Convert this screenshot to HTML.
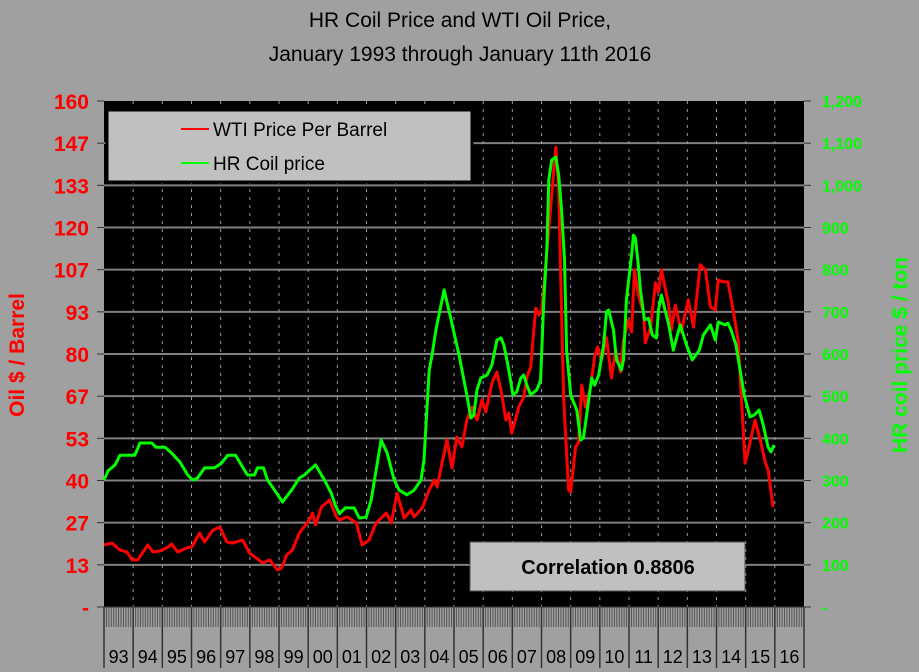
<!DOCTYPE html>
<html><head><meta charset="utf-8"><style>
body{margin:0;background:#a0a0a0;}
svg{display:block;font-family:"Liberation Sans",Arial,sans-serif;}
</style></head><body>
<svg id="chart" width="919" height="672" viewBox="0 0 919 672">
<rect x="0" y="0" width="919" height="672" fill="#a0a0a0"/>
<text x="460" y="27" text-anchor="middle" font-size="21" fill="#000">HR Coil Price and WTI Oil Price,</text>
<text x="460" y="61" text-anchor="middle" font-size="21" fill="#000">January 1993 through January 11th 2016</text>
<rect x="104" y="101" width="700" height="506" fill="#000"/>
<g id="grid"></g>
<g id="xaxis"></g>
<g id="yaxes"></g>
<g id="series"></g>
<text transform="translate(24,355) rotate(-90)" text-anchor="middle" font-size="21" font-weight="bold" fill="#ff0000">Oil $ / Barrel</text>
<text transform="translate(907,355) rotate(-90)" text-anchor="middle" font-size="21" font-weight="bold" fill="#00ff00">HR coil price $ / ton</text>
<g>
<rect x="107" y="110" width="365" height="72" fill="#c0c0c0" stroke="#000" stroke-width="3"/>
<line x1="181" y1="129" x2="209" y2="129" stroke="#ff0000" stroke-width="2"/>
<text x="213" y="136" font-size="19" fill="#000">WTI Price Per Barrel</text>
<line x1="181" y1="163" x2="209" y2="163" stroke="#00ff00" stroke-width="2"/>
<text x="213" y="170" font-size="19" fill="#000">HR Coil price</text>
</g>
<g>
<rect x="470" y="542" width="275" height="49" fill="#c0c0c0" stroke="#555" stroke-width="1"/>
<text x="608" y="574" text-anchor="middle" font-size="20" font-weight="bold" fill="#000">Correlation 0.8806</text>
</g>
</svg>
<script>
const oilYears=[1993.0,1993.27,1993.55,1993.79,1993.96,1994.16,1994.5,1994.68,1994.91,1995.15,1995.32,1995.53,1995.84,1996.01,1996.28,1996.45,1996.73,1996.97,1997.21,1997.41,1997.75,1997.99,1998.44,1998.68,1998.95,1999.09,1999.26,1999.46,1999.7,2000.04,2000.15,2000.25,2000.45,2000.73,2000.97,2001.07,2001.34,2001.65,2001.85,2002.09,2002.33,2002.68,2002.85,2003.05,2003.29,2003.53,2003.63,2003.91,2004.15,2004.32,2004.42,2004.59,2004.76,2004.93,2005.1,2005.27,2005.44,2005.62,2005.79,2005.96,2006.09,2006.3,2006.47,2006.61,2006.78,2006.88,2006.98,2007.22,2007.39,2007.5,2007.63,2007.8,2007.91,2008.01,2008.15,2008.49,2008.59,2008.66,2008.76,2008.93,2009.0,2009.17,2009.27,2009.38,2009.51,2009.68,2009.82,2009.92,2010.06,2010.23,2010.4,2010.54,2010.71,2010.81,2010.98,2011.09,2011.19,2011.32,2011.5,2011.56,2011.74,2011.91,2012.01,2012.11,2012.35,2012.45,2012.59,2012.79,2013.03,2013.21,2013.44,2013.62,2013.79,2013.96,2014.06,2014.23,2014.39,2014.56,2014.74,2014.98,2015.09,2015.32,2015.5,2015.67,2015.77,2015.94];
const oilValues=[19.6,20.2,18.0,17.4,14.9,14.9,19.6,17.4,17.7,18.7,19.9,17.4,18.7,19.0,23.4,20.6,24.3,25.3,20.6,20.2,21.2,17.1,13.9,14.9,11.7,12.3,16.4,18.0,23.4,27.5,29.7,25.9,31.6,33.8,28.5,27.5,28.5,26.6,19.6,21.2,26.6,29.7,26.6,36.0,28.1,30.7,28.5,31.3,37.0,40.2,37.9,45.5,52.8,44.0,53.8,50.6,59.1,63.2,59.1,65.5,61.7,70.8,74.3,68.6,59.1,61.3,55.0,63.2,66.4,72.7,75.9,94.5,92.3,93.9,108.8,145.4,131.9,103.4,65.5,37.0,36.4,50.6,51.9,70.2,63.2,69.6,79.1,82.2,78.1,85.1,72.4,81.3,74.3,84.4,90.7,87.0,106.6,98.7,93.0,83.5,88.5,102.5,99.6,106.6,96.1,87.6,95.5,87.0,97.1,88.5,108.2,106.6,94.9,93.9,103.4,102.8,102.8,94.5,84.4,45.5,49.6,59.1,52.8,45.8,43.3,31.6];
const steelYears=[1993.0,1993.14,1993.38,1993.55,1994.06,1994.23,1994.64,1994.78,1995.09,1995.32,1995.6,1995.87,1996.04,1996.21,1996.45,1996.79,1997.03,1997.24,1997.51,1997.75,1997.92,1998.16,1998.26,1998.47,1998.61,1998.85,1999.12,1999.43,1999.7,1999.87,2000.25,2000.56,2000.79,2000.93,2001.07,2001.27,2001.58,2001.75,2001.99,2002.16,2002.5,2002.71,2002.95,2003.12,2003.39,2003.63,2003.87,2003.97,2004.15,2004.25,2004.38,2004.66,2004.9,2005.17,2005.44,2005.58,2005.68,2005.79,2005.92,2006.13,2006.3,2006.47,2006.61,2006.71,2006.88,2007.02,2007.15,2007.29,2007.39,2007.5,2007.63,2007.84,2007.97,2008.08,2008.18,2008.25,2008.35,2008.49,2008.59,2008.69,2008.79,2008.86,2009.0,2009.21,2009.34,2009.44,2009.62,2009.72,2009.82,2009.96,2010.13,2010.23,2010.3,2010.47,2010.57,2010.74,2010.81,2010.91,2011.09,2011.15,2011.22,2011.32,2011.39,2011.53,2011.67,2011.8,2011.94,2012.01,2012.11,2012.25,2012.35,2012.52,2012.66,2012.76,2012.97,2013.17,2013.41,2013.55,2013.79,2013.96,2014.06,2014.3,2014.39,2014.5,2014.67,2014.81,2014.95,2015.15,2015.29,2015.46,2015.6,2015.77,2015.87,2015.97];
const steelValues=[301,323,337,360,360,389,389,379,379,365,344,313,301,306,330,330,341,360,360,332,313,313,330,330,301,277,249,277,306,313,337,301,270,242,221,235,235,211,213,254,396,365,301,277,266,277,301,349,562,598,657,752,681,598,503,448,455,515,543,550,574,633,638,621,562,503,510,543,550,526,503,515,538,728,847,1013,1060,1067,1024,941,823,609,503,467,396,401,491,543,526,550,621,700,704,657,586,562,586,728,835,882,875,811,752,681,685,645,638,704,740,700,673,609,645,669,621,586,609,645,669,633,676,669,673,657,621,562,503,451,455,467,432,379,368,384];
const leftTicks=["-","13","27","40","53","67","80","93","107","120","133","147","160"];
const rightTicks=["-","100","200","300","400","500","600","700","800","900","1,000","1,100","1,200"];
const yearLabels=["93","94","95","96","97","98","99","00","01","02","03","04","05","06","07","08","09","10","11","12","13","14","15","16"];

const NS="http://www.w3.org/2000/svg";
const X0=104,X1=804,YT=101,YB=607;
const yrW=(X1-X0)/yearLabels.length;
function xs(yr){return X0+(yr-1993)*yrW;}
function yOil(v){return YB-v/160*(YB-YT);}
function ySteel(v){return YB-v/1200*(YB-YT);}
function mk(tag,attrs,parent){const e=document.createElementNS(NS,tag);for(const k in attrs)e.setAttribute(k,attrs[k]);parent.appendChild(e);return e;}
const grid=document.getElementById('grid'),xa=document.getElementById('xaxis'),ya=document.getElementById('yaxes'),ser=document.getElementById('series');
for(let i=0;i<leftTicks.length;i++){
  const y=ySteel(i*100);
  if(i>0&&i<leftTicks.length-1){const g=mk('line',{x1:X0,y1:y,x2:X1,y2:y,stroke:'#808080','stroke-width':2},grid);
  
  }
  const t1=mk('line',{x1:X0-7,y1:y,x2:X0,y2:y,stroke:'#333','stroke-width':1},ya);
  
  
  const t2=mk('line',{x1:X1,y1:y,x2:X1+7,y2:y,stroke:'#333','stroke-width':1},ya);
  
  
  const l=mk('text',{x:89,y:y+8,'text-anchor':'end','font-size':21,'font-weight':'bold',fill:'#ff0000'},ya);
  l.textContent=leftTicks[i];
  
  
  const r=mk('text',{x:822,y:y+6,'font-size':16,'font-weight':'bold',fill:'#00ff00'},ya);
  r.textContent=rightTicks[i];
  
  
}
const band=mk('rect',{x:X0,y:YB,width:X1-X0,height:21,fill:'#a0a0a0'},xa);


for(let m=0;m<=yearLabels.length*12;m++){
  const x=X0+m*yrW/12;
  const mt=mk('line',{x1:x,y1:YB,x2:x,y2:YB+20,stroke:'#555','stroke-width':1},xa);
  
  
}
mk('line',{x1:X0,y1:YB,x2:X1,y2:YB,stroke:'#333','stroke-width':1},xa);
for(let i=0;i<=yearLabels.length;i++){
  const x=X0+i*yrW;
  const s=mk('line',{x1:x,y1:YB,x2:x,y2:668,stroke:'#333','stroke-width':1.5},xa);
  
  
  if(i>0&&i<yearLabels.length){const v=mk('line',{x1:x,y1:YT,x2:x,y2:YB,stroke:'#999','stroke-width':1,'stroke-dasharray':'3,5'},grid);
  
  }
  if(i<yearLabels.length){const t=mk('text',{x:x+yrW/2,y:663,'text-anchor':'middle','font-size':18,fill:'#000'},xa);
  t.textContent=yearLabels[i];
  
  }
}
const pO=oilYears.map((yr,i)=>xs(yr).toFixed(1)+','+yOil(oilValues[i]).toFixed(1)).join(' ');
const pS=steelYears.map((yr,i)=>xs(yr).toFixed(1)+','+ySteel(steelValues[i]).toFixed(1)).join(' ');
const lo=mk('polyline',{points:pO,fill:'none',stroke:'#ff0000','stroke-width':3,'stroke-linejoin':'round'},ser);


const ls=mk('polyline',{points:pS,fill:'none',stroke:'#00ff00','stroke-width':3,'stroke-linejoin':'round'},ser);


</script>
</body></html>
